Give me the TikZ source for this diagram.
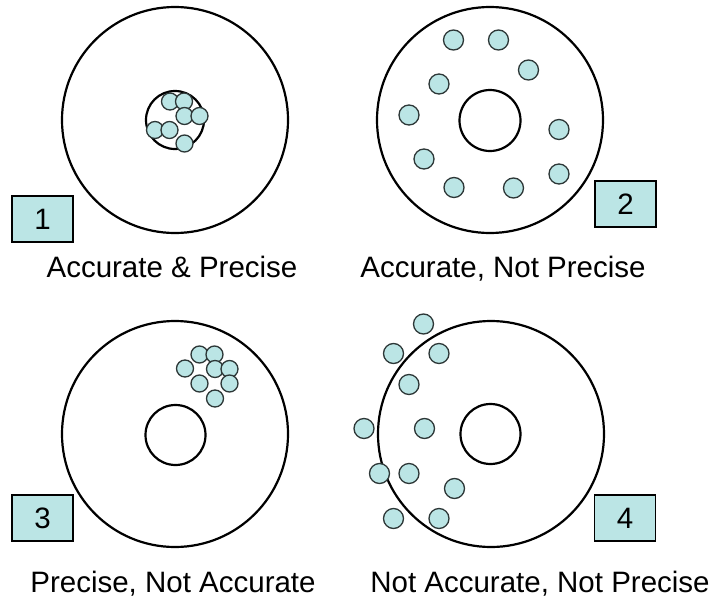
\documentclass[tikz,border=0pt]{standalone}
\usepackage{fontspec}
\setmainfont{Liberation Sans}
\usepackage{tikz}
\definecolor{shotcyan}{RGB}{187,229,229}
\definecolor{shotrim}{RGB}{45,55,55}
\tikzset{
  shot/.style={
    shape = circle,
    draw = shotrim,
    fill = shotcyan,
    minimum size = 20pt,
    inner sep = 0pt,
    line width = 1.3pt
  },
  tightshot/.style={
    shot,
    minimum size = 17pt
  },
  ring/.style={
    line width = 2.2pt
  },
  tag/.style={
    shape = rectangle,
    draw,
    fill = shotcyan,
    line width = 1.2pt,
    minimum width = 61pt,
    minimum height = 46pt,
    inner sep = 0pt,
    font = \fontsize{29.5}{34}\selectfont
  },
  caption/.style={
    anchor = base,
    inner sep = 0pt,
    font = \fontsize{29.5}{34}\selectfont
  }
}

\begin{document}
\begin{tikzpicture}[x=1pt,y=-1pt]
        \useasboundingbox (0,0) rectangle (713,600);
        \draw[ring] (175,120) circle (113);
        \draw[ring] (175,120) circle (29);
        \node[tightshot] (a1) at (170,101.5) {};
        \node[tightshot] (a2) at (184,101.5) {};
        \node[tightshot] (a3) at (184.5,116) {};
        \node[tightshot] (a4) at (199.5,116) {};
        \node[tightshot] (a5) at (155,130) {};
        \node[tightshot] (a6) at (169.5,130) {};
        \node[tightshot] (a7) at (184.5,143.5) {};
        \node[tag] (tag1) at (42.5,219) {1};
        \node[caption] (cap1) at (172,277) {Accurate \& Precise};
        \draw[ring] (490,120) circle (113);
        \draw[ring] (490,120.5) circle (30.5);
        \node[shot] (b1) at (453.5,40) {};
        \node[shot] (b2) at (498.5,40) {};
        \node[shot] (b3) at (528.5,70) {};
        \node[shot] (b4) at (439,84) {};
        \node[shot] (b5) at (409,115) {};
        \node[shot] (b6) at (559,129.5) {};
        \node[shot] (b7) at (424,159) {};
        \node[shot] (b8) at (454,187.5) {};
        \node[shot] (b9) at (513.5,188) {};
        \node[shot] (b10) at (559,174) {};
        \node[tag] (tag2) at (625.5,204) {2};
        \node[caption] (cap2) at (503,277) {Accurate, Not Precise};
        \draw[ring] (175,434) circle (113);
        \draw[ring] (175.5,435) circle (30);
        \node[tightshot] (c1) at (199.5,354.5) {};
        \node[tightshot] (c2) at (214.5,354.5) {};
        \node[tightshot] (c3) at (185,368.5) {};
        \node[tightshot] (c4) at (215,369) {};
        \node[tightshot] (c5) at (229.5,369) {};
        \node[tightshot] (c6) at (199.5,383.5) {};
        \node[tightshot] (c7) at (229.5,383.5) {};
        \node[tightshot] (c8) at (215,398.5) {};
        \node[tag] (tag3) at (42.5,518) {3};
        \node[caption] (cap3) at (173,592) {Precise, Not Accurate};
        \draw[ring] (491,434) circle (113);
        \draw[ring] (490.5,434) circle (30);
        \node[shot] (d1) at (423.5,324) {};
        \node[shot] (d2) at (393.5,353.5) {};
        \node[shot] (d3) at (439,353.5) {};
        \node[shot] (d4) at (409,384.5) {};
        \node[shot] (d5) at (364,428.5) {};
        \node[shot] (d6) at (424.5,428.5) {};
        \node[shot] (d7) at (379.5,473.5) {};
        \node[shot] (d8) at (409,473.5) {};
        \node[shot] (d9) at (454.5,488.5) {};
        \node[shot] (d10) at (393.5,518.5) {};
        \node[shot] (d11) at (439,518.5) {};
        \node[tag] (tag4) at (625,518) {4};
        \node[caption] (cap4) at (540,592) {Not Accurate, Not Precise};
\end{tikzpicture}
\end{document}
